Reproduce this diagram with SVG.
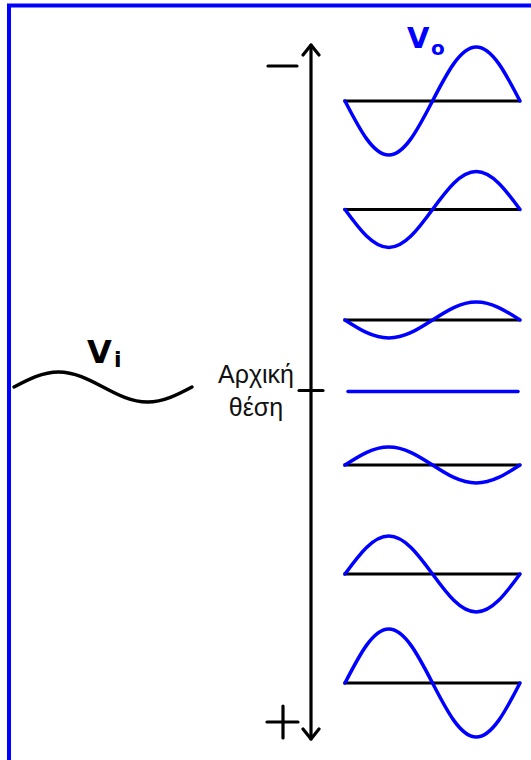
<svg xmlns="http://www.w3.org/2000/svg" width="531" height="760" viewBox="0 0 531 760">
  <style>
    .frame { fill: none; stroke: #0000ff; stroke-width: 4; }
    .axis { fill: none; stroke: #000; stroke-width: 3.2; stroke-linecap: round; }
    .wave { fill: none; stroke: #0000ff; stroke-width: 3.5; stroke-linecap: round; }
    .vin { fill: none; stroke: #000; stroke-width: 3.5; stroke-linecap: round; }
    .line { fill: none; stroke: #000; stroke-width: 3; stroke-linecap: square; }
    .lbl { font-family: "DejaVu Sans", "Liberation Sans", sans-serif; font-weight: bold; }
    .gr { font-family: "Liberation Sans", Arial, sans-serif; font-size: 25px; fill: #111; }
  </style>
  <defs>
    <marker id="chev" viewBox="-2 0 20 20" refX="10" refY="10" markerWidth="20" markerHeight="20" markerUnits="userSpaceOnUse" orient="auto-start-reverse">
      <path d="M0,2 L10,10 L0,18" fill="none" stroke="#000" stroke-width="3.2" stroke-linecap="round" stroke-linejoin="round"/>
    </marker>
  </defs>

  <rect class="frame" x="9" y="5.5" width="700" height="900"/>

  <g id="connectors">
    <line class="axis" x1="311" y1="45" x2="311" y2="739" marker-start="url(#chev)" marker-end="url(#chev)"/>
    <line class="axis" x1="299" y1="390.5" x2="323" y2="390.5"/>
  </g>

  <g id="minus">
    <line class="axis" x1="268" y1="66" x2="297" y2="66" stroke-linecap="butt"/>
  </g>
  <g id="plus">
    <line class="axis" x1="267" y1="722" x2="298" y2="722" stroke-linecap="butt"/>
    <line class="axis" x1="283" y1="706" x2="283" y2="738" stroke-linecap="butt"/>
  </g>

  <g id="vi">
    <path class="vin" d="M14,387 c14.51,-7.68 28.40,-15 44.5,-15 c16.10,0 29.99,7.32 44.5,15 c14.51,7.68 28.40,15 44.5,15 c16.10,0 29.99,-7.32 44.5,-15"/>
    <text class="lbl" x="87" y="363" font-size="32" fill="#000">V</text>
    <text class="lbl" x="114" y="367" font-size="22" fill="#000">i</text>
  </g>

  <g id="vo-label">
    <text class="lbl" x="407" y="48" font-size="29" fill="#0000ff">V</text>
    <text class="lbl" x="431" y="55" font-size="20" fill="#0000ff">o</text>
  </g>

  <g id="initial-position">
    <text class="gr" x="256" y="383" text-anchor="middle">Αρχική</text>
    <text class="gr" x="256" y="416" text-anchor="middle">θέση</text>
  </g>

  <g id="wave1">
    <line class="line" x1="345" y1="101" x2="519" y2="101"/>
    <path class="wave" d="M345,101 c14.27,27.66 27.92,54 43.75,54 c15.83,0 29.48,-26.34 43.75,-54 c14.27,-27.66 27.92,-54 43.75,-54 c15.83,0 29.48,26.34 43.75,54"/>
  </g>
  <g id="wave2">
    <line class="line" x1="345" y1="209.5" x2="519" y2="209.5"/>
    <path class="wave" d="M345,209.5 c14.27,19.47 27.92,38 43.75,38 c15.83,0 29.48,-18.53 43.75,-38 c14.27,-19.47 27.92,-38 43.75,-38 c15.83,0 29.48,18.53 43.75,38"/>
  </g>
  <g id="wave3">
    <line class="line" x1="345" y1="320" x2="519" y2="320"/>
    <path class="wave" d="M345,320 c14.27,9.22 27.92,18 43.75,18 c15.83,0 29.48,-8.78 43.75,-18 c14.27,-9.22 27.92,-18 43.75,-18 c15.83,0 29.48,8.78 43.75,18"/>
  </g>
  <g id="wave4">
    <line class="wave" x1="348" y1="391.5" x2="518" y2="391.5"/>
  </g>
  <g id="wave5">
    <line class="line" x1="345" y1="465" x2="519" y2="465"/>
    <path class="wave" d="M345,465 c14.27,-9.22 27.92,-18 43.75,-18 c15.83,0 29.48,8.78 43.75,18 c14.27,9.22 27.92,18 43.75,18 c15.83,0 29.48,-8.78 43.75,-18"/>
  </g>
  <g id="wave6">
    <line class="line" x1="345" y1="574" x2="519" y2="574"/>
    <path class="wave" d="M345,574 c14.27,-19.47 27.92,-38 43.75,-38 c15.83,0 29.48,18.53 43.75,38 c14.27,19.47 27.92,38 43.75,38 c15.83,0 29.48,-18.53 43.75,-38"/>
  </g>
  <g id="wave7">
    <line class="line" x1="345" y1="683" x2="519" y2="683"/>
    <path class="wave" d="M345,683 c14.27,-27.66 27.92,-54 43.75,-54 c15.83,0 29.48,26.34 43.75,54 c14.27,27.66 27.92,54 43.75,54 c15.83,0 29.48,-26.34 43.75,-54"/>
  </g>
</svg>
